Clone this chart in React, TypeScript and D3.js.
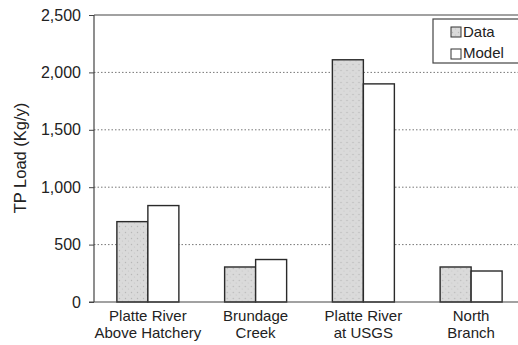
import { useRef, useEffect } from 'react'
import * as d3 from 'd3'

const SITES = ['Platte River|Above Hatchery', 'Brundage|Creek', 'Platte River|at USGS', 'North|Branch']
const DATA_VALUES = [700, 305, 2110, 305]
const MODEL_VALUES = [840, 370, 1900, 270]
const Y_TICKS = [0, 500, 1000, 1500, 2000, 2500]
const SERIES = ['Data', 'Model']

const W = 518
const H = 345
const MARGIN = { top: 15, right: -7, bottom: 43, left: 94 }
const FONT = '"Liberation Sans", Arial, sans-serif'

export default function App() {
  const svgRef = useRef<SVGSVGElement>(null)

  useEffect(() => {
    if (!svgRef.current) return
    const el = d3.select(svgRef.current)
    el.selectAll('*').remove()

    const innerW = W - MARGIN.left - MARGIN.right
    const innerH = H - MARGIN.top - MARGIN.bottom

    // stipple pattern for the measured data bars
    const defs = el.append('defs')
    const pat = defs.append('pattern').attr('id', 'stipple')
      .attr('width', 6).attr('height', 6).attr('patternUnits', 'userSpaceOnUse')
    pat.append('rect').attr('width', 6).attr('height', 6).attr('fill', '#dadada')
    pat.append('circle').attr('cx', 1.5).attr('cy', 1.5).attr('r', 0.7).attr('fill', '#b8b8b8')
    pat.append('circle').attr('cx', 4.5).attr('cy', 4).attr('r', 0.6).attr('fill', '#c4c4c4')

    const svg = el.append('g').attr('transform', `translate(${MARGIN.left},${MARGIN.top})`)

    const x = d3.scaleBand().domain(SITES).range([0, innerW]).paddingInner(0).paddingOuter(0)
    const xs = d3.scaleBand().domain(SERIES).range([x.bandwidth() / 2 - 31, x.bandwidth() / 2 + 31])
    const y = d3.scaleLinear().domain([0, 2500]).range([innerH, 0])

    // dotted gridlines
    svg.append('g')
      .selectAll('line')
      .data(Y_TICKS.filter((t) => t > 0 && t < 2500))
      .join('line')
      .attr('x1', 0).attr('x2', innerW)
      .attr('y1', (d) => y(d)).attr('y2', (d) => y(d))
      .attr('stroke', '#777').attr('stroke-width', 1).attr('stroke-dasharray', '1.5,2')

    // top border
    svg.append('line').attr('x1', 0).attr('x2', innerW).attr('y1', y(2500)).attr('y2', y(2500))
      .attr('stroke', '#444').attr('stroke-width', 1.2)

    // bars
    const groups = svg.selectAll('.site').data(SITES).join('g')
      .attr('transform', (d) => `translate(${x(d)},0)`)
    groups.append('rect')
      .attr('x', xs('Data')!).attr('width', xs.bandwidth())
      .attr('y', (_, i) => y(DATA_VALUES[i]))
      .attr('height', (_, i) => innerH - y(DATA_VALUES[i]))
      .attr('fill', 'url(#stipple)').attr('stroke', '#2a2a2a').attr('stroke-width', 1.4)
    groups.append('rect')
      .attr('x', xs('Model')!).attr('width', xs.bandwidth())
      .attr('y', (_, i) => y(MODEL_VALUES[i]))
      .attr('height', (_, i) => innerH - y(MODEL_VALUES[i]))
      .attr('fill', '#fff').attr('stroke', '#2a2a2a').attr('stroke-width', 1.4)

    // y axis
    svg.append('g')
      .call(d3.axisLeft(y).tickValues(Y_TICKS).tickSize(5).tickPadding(8).tickFormat(d3.format(',')))
      .call((g) => {
        g.select('.domain').attr('stroke', '#444').attr('stroke-width', 1.2).attr('d', `M0,${innerH}V0`)
        g.selectAll('.tick line').attr('stroke', '#444')
        g.selectAll('text').attr('fill', '#222').attr('font-size', '16px').attr('font-family', FONT)
      })

    // x baseline
    svg.append('line').attr('x1', -5).attr('x2', innerW).attr('y1', innerH).attr('y2', innerH)
      .attr('stroke', '#444').attr('stroke-width', 1.2)

    // category labels
    const lbl = svg.append('g').selectAll('text').data(SITES).join('text')
      .attr('x', (d) => x(d)! + x.bandwidth() / 2)
      .attr('y', innerH + 19)
      .attr('text-anchor', 'middle').attr('font-size', '15px').attr('font-family', FONT).attr('fill', '#222')
    lbl.selectAll('tspan').data((d) => d.split('|')).join('tspan')
      .attr('x', function () { return (this.parentNode as SVGTextElement).getAttribute('x') })
      .attr('dy', (_, i) => (i === 0 ? 0 : 17))
      .text((d) => d)

    // y label
    svg.append('text')
      .attr('transform', `translate(${-68},${143}) rotate(-90)`)
      .attr('text-anchor', 'middle').attr('font-size', '16.5px').attr('font-family', FONT).attr('fill', '#222')
      .text('TP Load (Kg/y)')

    // legend
    const lg = el.append('g').attr('transform', 'translate(433,19)')
    lg.append('rect').attr('width', 100).attr('height', 44).attr('fill', '#fff').attr('stroke', '#444').attr('stroke-width', 1.2)
    SERIES.forEach((s, i) => {
      lg.append('rect').attr('x', 18).attr('y', 8 + i * 22).attr('width', 10).attr('height', 10)
        .attr('fill', i === 0 ? 'url(#stipple)' : '#fff').attr('stroke', '#333')
      lg.append('text').attr('x', 30).attr('y', 18 + i * 21)
        .attr('font-size', '15px').attr('font-family', FONT).attr('fill', '#222').text(s)
    })
  }, [])

  return (
    <svg ref={svgRef} width={W} height={H}
      style={{ position: 'absolute', left: 0, top: 0, background: '#fff', overflow: 'hidden' }} />
  )
}
